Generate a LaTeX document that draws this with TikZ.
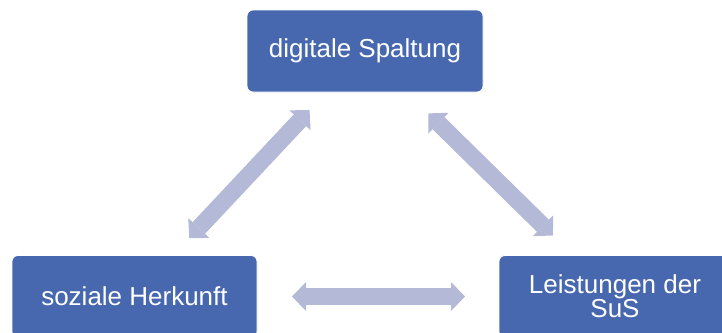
\documentclass[tikz,border=0pt]{standalone}
\usepackage{fontspec}
\setmainfont{Liberation Sans}
\usetikzlibrary{arrows.meta}
\definecolor{boxblue}{HTML}{4768AF}
\definecolor{linkgray}{HTML}{B3B9D7}
\begin{document}
\begin{tikzpicture}[x=1pt,y=-1pt,
  box/.style={fill=boxblue, draw=white, line width=0.8pt, rounded corners=6pt,
    text=white, font=\fontsize{26}{24}\selectfont, align=center, inner sep=0pt,
    minimum height=82pt},
  tip/.style={Triangle[length=14pt,width=29pt,line width=0pt]},
  link/.style={draw=linkgray, line width=17pt, {Triangle[length=14pt,width=29pt,line width=0pt]}-{Triangle[length=14pt,width=29pt,line width=0pt]}}
]
\useasboundingbox (0,0) rectangle (722,332);

% the three topics
\node[box, minimum width=236pt] (spalt) at (365,51) {digitale Spaltung};
\node[box, minimum width=245pt] (herk) at (134.5,296.5) {soziale Herkunft};
\node[box, minimum width=232pt] (leist) at (615,296.5) {Leistungen der\\SuS};

% mutual influences
\draw[link, shorten <=81pt, shorten >=80pt] (spalt.center) -- (herk.center);
\draw[link, shorten <=89pt, shorten >=87pt] (spalt.center) -- (leist.center);
\draw[link, shorten <=157.5pt, shorten >=150pt] (herk.center) -- (leist.center);
\end{tikzpicture}
\end{document}
